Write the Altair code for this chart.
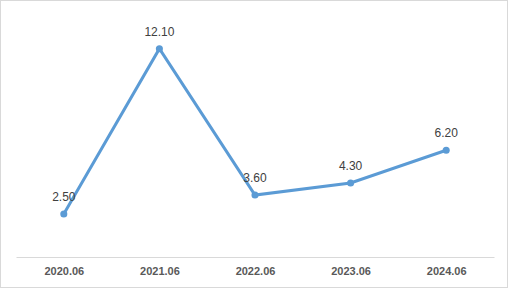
import altair as alt
import pandas as pd

periods = ["2020.06", "2021.06", "2022.06", "2023.06", "2024.06"]
values = [2.50, 12.10, 3.60, 4.30, 6.20]
labels = ["2.50", "12.10", "3.60", "4.30", "6.20"]

df = pd.DataFrame({"period": periods, "value": values, "label": labels})

x = alt.X("period:N", sort=periods, title=None,
          scale=alt.Scale(paddingInner=0, paddingOuter=0, align=0.5),
          axis=alt.Axis(labelAngle=0, ticks=False, domainColor="#d9d9d9", domainWidth=1,
                        labelFont="Liberation Sans", labelFontSize=11, labelFontWeight="bold",
                        labelColor="#595959", labelPadding=8, grid=False))
y = alt.Y("value:Q", scale=alt.Scale(domain=[0, 14]), axis=None)

base = alt.Chart(df).encode(x=x, y=y)

line = base.mark_line(color="#5B9BD5", strokeWidth=3, point=alt.OverlayMarkDef(color="#5B9BD5", size=50, opacity=1))
text = base.mark_text(dy=-17, font="Liberation Sans", fontSize=12, color="#404040").encode(text="label:N")

border = alt.Chart(df).mark_rect(fill=None, stroke="#d9d9d9", strokeWidth=1, clip=False).encode(
    x=alt.value(-15.5), x2=alt.value(491.5), y=alt.value(-15.5), y2=alt.value(271.5))

chart = alt.layer(border, line, text).properties(
    width=478, height=241,
    autosize=alt.AutoSizeParams(type="none"),
    padding={"left": 16, "top": 16, "right": 14, "bottom": 32},
    background="white",
).configure_view(stroke=None)

chart.save("out.html", embed_options={"renderer": "svg", "actions": False})
